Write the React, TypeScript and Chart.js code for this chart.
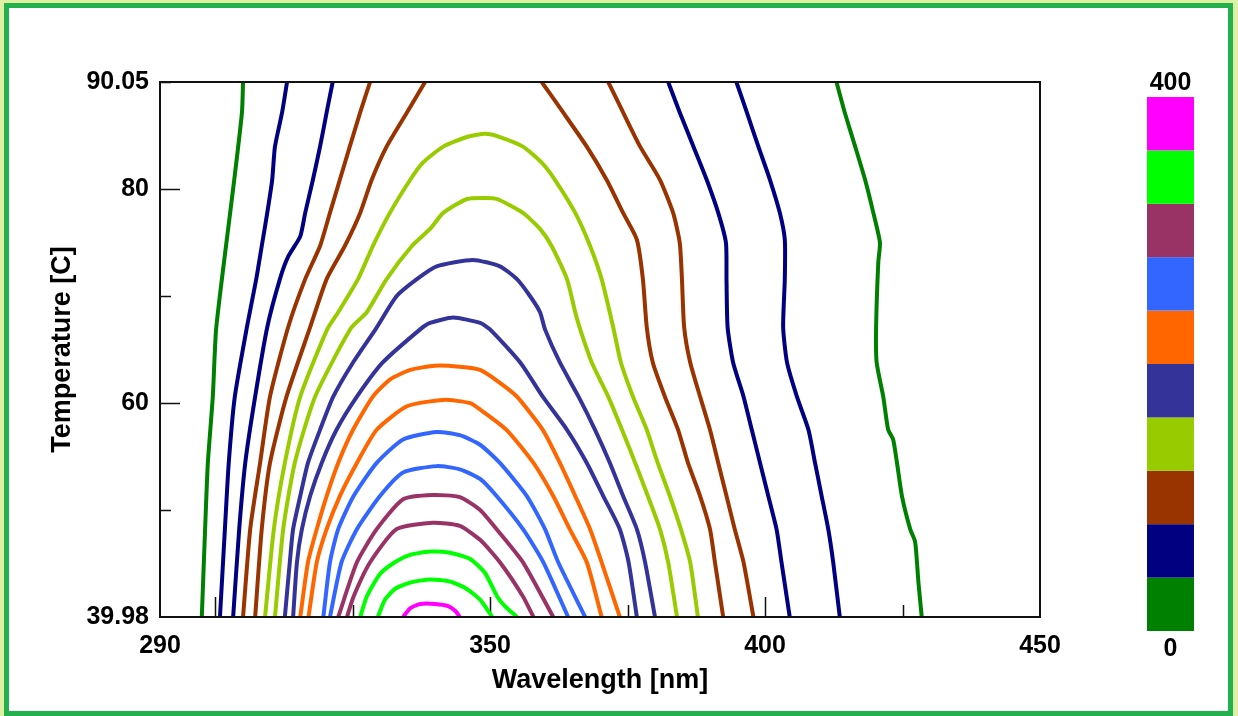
import React, { useEffect, useRef } from "react";
import { Chart, registerables } from "chart.js";

Chart.register(...registerables);

// ---------- data ----------
const bandColors = [
  "#008000", "#000080", "#993300", "#99cc00", "#333399",
  "#ff6600", "#3366ff", "#993366", "#00ff00", "#ff00ff",
];
const colorbarMin = 0;
const colorbarMax = 400;
const colorbarLabels = ["400", "0"];

const xTickLabels = [290, 350, 400, 450];
const yTickLabels = [39.98, 60, 80, 90.05];
const xMajorMarks = [300, 350, 400];
const xMinorMarks = [325, 375, 425];
const yMajorMarks = [60, 80];
const yMinorMarks = [50, 70, 90.05];

// contour lines: [wavelength nm, temperature C]
const c20L = [[305.1,90.05],[304.9,87.2],[303.5,80.9],[302.0,74.7],[300.2,66.9],[299.6,60.6],[298.7,54.4],[298.2,48.2],[297.6,39.98]];
const c20R = [[413.0,90.05],[414.5,87.2],[416.4,84.0],[418.2,80.9],[419.7,77.8],[420.9,75.0],[420.6,73.2],[420.2,67.1],[420.3,63.8],[421.5,60.6],[422.4,57.5],[423.3,56.6],[424.0,54.4],[424.9,51.3],[426.4,48.2],[427.3,47.0],[427.9,43.2],[428.5,39.98]];
const c40L = [[313.1,90.05],[312.2,87.2],[310.9,84.0],[310.4,80.9],[309.5,77.8],[308.5,74.7],[307.5,71.6],[305.8,67.1],[303.6,60.6],[302.5,54.4],[301.8,48.2],[300.9,39.98]];
const c40R = [[394.8,90.05],[396.7,87.2],[398.8,84.0],[400.9,80.9],[402.7,77.8],[403.6,75.3],[403.6,71.6],[403.3,67.1],[404.0,63.8],[405.8,60.6],[407.9,57.5],[409.1,54.4],[410.3,51.3],[411.5,48.2],[412.4,45.1],[413.6,39.98]];
const c60L = [[321.4,90.05],[320.3,87.2],[319.1,84.0],[317.8,80.9],[316.4,77.8],[315.5,75.6],[313.3,73.7],[311.8,71.6],[309.5,67.1],[307.3,60.6],[305.5,54.4],[304.4,48.2],[303.3,39.98]];
const c60R = [[382.4,90.05],[384.5,87.2],[387.0,84.0],[389.4,80.9],[391.5,77.8],[392.9,75.0],[393.0,71.6],[393.2,67.1],[394.2,63.8],[396.1,60.6],[397.6,57.5],[399.1,54.4],[400.6,51.3],[402.1,48.2],[403.0,45.1],[404.5,39.98]];
const c80L = [[328.2,90.05],[326.4,87.2],[324.5,84.0],[322.7,80.9],[320.9,77.8],[319.1,74.7],[316.4,71.6],[313.3,67.1],[310.0,60.6],[308.2,54.4],[306.4,48.2],[305.1,39.98]];
const c80R = [[371.5,90.05],[374.2,87.2],[377.3,84.0],[380.9,80.9],[383.3,77.8],[384.5,75.0],[384.9,71.6],[385.3,67.1],[386.4,63.8],[388.2,60.6],[390.0,57.5],[391.5,54.4],[393.0,51.3],[394.5,48.2],[396.1,45.1],[397.9,39.98]];
const c100L = [[338.2,90.05],[334.9,87.2],[331.2,84.0],[328.5,80.9],[326.4,77.8],[323.6,74.7],[320.3,71.6],[317.3,67.1],[313.0,60.6],[310.0,54.4],[308.5,48.2],[307.3,39.98]];
const c100R = [[359.4,90.05],[363.3,87.2],[367.6,84.0],[371.2,80.9],[374.2,77.8],[376.7,75.3],[377.8,71.6],[378.5,67.1],[379.6,63.8],[381.8,60.6],[384.2,57.5],[386.0,54.4],[388.2,51.3],[390.0,48.2],[390.9,45.1],[392.4,39.98]];
const c120 = [[309.1,39.98],[310.7,48.2],[312.7,54.4],[315.5,60.6],[320.4,66.9],[322.4,68.5],[326.0,71.6],[328.7,74.7],[331.8,77.8],[335.5,80.9],[337.8,82.5],[341.5,84.0],[345.8,84.9],[349.1,85.2],[351.8,84.9],[356.0,84.0],[359.4,82.5],[361.8,80.9],[365.5,77.8],[368.2,74.7],[370.3,71.6],[372.4,67.1],[373.8,63.8],[376.0,60.6],[378.5,57.5],[380.5,54.4],[382.7,51.3],[384.7,48.2],[386.4,45.1],[387.8,39.98]];
const c140 = [[310.9,39.98],[312.4,48.2],[314.5,54.4],[318.2,60.6],[324.7,67.0],[327.6,68.5],[331.2,71.6],[335.8,74.7],[339.1,76.3],[341.5,77.8],[345.8,79.1],[349.1,79.2],[351.3,79.1],[356.0,77.8],[359.1,76.3],[361.2,74.7],[364.0,71.6],[365.5,68.5],[366.4,66.9],[368.5,63.8],[371.5,60.6],[374.0,57.5],[376.4,54.4],[378.7,51.3],[380.9,48.2],[382.4,45.1],[384.0,39.98]];
const c160 = [[312.7,39.98],[313.6,45.1],[314.2,48.2],[315.5,51.3],[316.9,54.4],[319.1,57.5],[321.5,60.6],[325.1,63.8],[329.3,67.0],[333.0,70.0],[336.7,71.6],[340.3,72.8],[346.9,73.4],[351.8,72.8],[354.9,71.6],[357.3,70.0],[359.1,68.5],[360.0,66.9],[362.7,63.8],[366.1,60.6],[369.1,57.5],[371.8,54.4],[374.2,51.3],[376.7,48.2],[378.2,45.1],[380.0,39.98]];
const c180 = [[314.2,39.98],[314.9,45.1],[315.8,48.2],[317.3,51.3],[319.4,54.4],[322.1,57.5],[325.8,60.6],[330.5,63.8],[337.3,66.9],[339.1,67.5],[343.3,68.0],[348.2,67.5],[350.0,66.9],[355.5,63.8],[359.6,60.6],[364.0,57.5],[367.6,54.4],[370.6,51.3],[373.6,48.2],[375.2,45.1],[376.7,39.98]];
const c200 = [[315.5,39.98],[316.9,45.1],[318.5,48.2],[320.3,51.3],[322.4,54.4],[325.1,57.5],[328.7,60.6],[331.8,62.2],[335.5,63.1],[340.0,63.5],[344.5,63.4],[348.2,63.1],[351.8,61.9],[354.9,60.6],[359.6,57.5],[362.7,54.4],[365.5,51.3],[368.2,48.2],[370.3,45.1],[373.6,39.98]];
const c220 = [[317.0,39.98],[318.5,45.1],[320.3,48.2],[322.7,51.3],[325.8,54.4],[329.4,57.5],[334.9,59.7],[341.5,60.3],[346.4,60.0],[348.2,59.4],[353.0,57.5],[357.9,54.4],[361.5,51.3],[364.5,48.2],[367.6,45.1],[370.3,39.98]];
const c240 = [[319.7,39.98],[320.9,45.1],[322.4,48.2],[325.2,51.3],[329.4,54.4],[334.2,56.6],[340.3,57.3],[344.5,57.0],[348.2,56.1],[351.8,54.4],[356.7,51.3],[360.0,48.2],[362.4,45.1],[367.3,39.98]];
const c260 = [[320.9,39.98],[323.0,45.1],[325.8,48.2],[330.0,51.3],[334.2,53.5],[340.3,54.1],[344.5,53.8],[348.2,52.9],[351.2,51.3],[356.0,48.2],[359.7,45.1],[364.2,39.98]];
const c280 = [[322.4,39.98],[325.8,45.1],[329.4,48.2],[334.2,51.0],[339.6,51.4],[344.5,51.2],[348.2,50.0],[351.2,48.2],[356.0,45.1],[361.5,39.98]];
const c300 = [[324.0,39.98],[325.2,41.9],[328.2,45.1],[333.0,48.2],[339.6,48.8],[344.5,48.5],[348.2,47.2],[351.8,45.1],[356.0,41.9],[357.9,39.98]];
const c320 = [[326.4,39.98],[327.6,41.9],[330.0,44.0],[332.7,45.1],[335.5,45.8],[339.1,46.1],[342.7,46.0],[346.4,45.4],[349.1,44.1],[351.3,41.9],[352.7,41.0],[354.9,39.98]];
const c340 = [[329.6,39.98],[330.9,41.6],[332.7,42.6],[335.5,43.2],[339.1,43.5],[342.7,43.3],[345.5,42.7],[348.2,41.6],[350.4,39.98]];
const c360 = [[334.2,39.98],[335.5,40.8],[337.3,41.2],[340.0,41.2],[342.4,41.0],[343.8,40.5],[344.5,39.98]];

const contourLevels = [20, 20, 40, 40, 60, 60, 80, 80, 100, 100, 120, 140, 160, 180, 200, 220, 240, 260, 280, 300, 320, 340, 360];
const contourLines = [c20L, c20R, c40L, c40R, c60L, c60R, c80L, c80R, c100L, c100R, c120, c140, c160, c180, c200, c220, c240, c260, c280, c300, c320, c340, c360];

// ---------- styling ----------
const SANS = '"Liberation Sans", Arial, sans-serif';

const bandStep = (colorbarMax - colorbarMin) / bandColors.length;

const decorPlugin = {
  id: "decor",
  beforeDatasetsDraw(chart: any) {
    const { ctx, scales } = chart;
    const x = scales.x;
    const y = scales.y;
    const area = chart.chartArea;
    ctx.save();
    ctx.strokeStyle = "#111";
    ctx.lineWidth = 1.5;
    ctx.beginPath();
    xMajorMarks.forEach((v) => {
      const px = Math.round(x.getPixelForValue(v)) + 0.5;
      ctx.moveTo(px, area.bottom);
      ctx.lineTo(px, area.bottom - 20);
    });
    xMinorMarks.forEach((v) => {
      const px = Math.round(x.getPixelForValue(v)) + 0.5;
      ctx.moveTo(px, area.bottom);
      ctx.lineTo(px, area.bottom - 12);
    });
    yMajorMarks.forEach((v) => {
      const py = Math.round(y.getPixelForValue(v)) + 0.5;
      ctx.moveTo(area.left, py);
      ctx.lineTo(area.left + 20, py);
    });
    yMinorMarks.forEach((v) => {
      const py = Math.round(y.getPixelForValue(v)) + 0.5;
      ctx.moveTo(area.left, py);
      ctx.lineTo(area.left + 11, py);
    });
    ctx.stroke();
    ctx.restore();
  },
  afterDatasetsDraw(chart: any) {
    const { ctx } = chart;
    const area = chart.chartArea;
    ctx.save();
    ctx.strokeStyle = "#111";
    ctx.lineWidth = 2;
    ctx.strokeRect(area.left, area.top, area.right - area.left, area.bottom - area.top);

    // colour bar
    const cbLeft = 1147;
    const cbWidth = 47;
    const cbTop = 97;
    const cbBottom = 631;
    const h = (cbBottom - cbTop) / bandColors.length;
    bandColors.forEach((c, i) => {
      const lo = colorbarMin + i * bandStep;
      const frac = (lo - colorbarMin) / (colorbarMax - colorbarMin);
      const yb = cbBottom - frac * (cbBottom - cbTop);
      ctx.fillStyle = c;
      ctx.fillRect(cbLeft, yb - h, cbWidth, h);
    });
    ctx.fillStyle = "#000";
    ctx.font = `bold 25px ${SANS}`;
    ctx.textAlign = "center";
    ctx.textBaseline = "middle";
    ctx.fillText(colorbarLabels[0], cbLeft + cbWidth / 2, 83);
    ctx.fillText(colorbarLabels[1], cbLeft + cbWidth / 2, 649);
    ctx.restore();
  },
};

export default function App() {
  const ref = useRef<HTMLCanvasElement | null>(null);

  useEffect(() => {
    if (!ref.current) return;
    const datasets = contourLines.map((pts, i) => ({
      label: String(contourLevels[i]),
      data: pts.map(([x, y]) => ({ x, y })),
      borderColor: bandColors[Math.floor(contourLevels[i] / bandStep)],
      backgroundColor: bandColors[Math.floor(contourLevels[i] / bandStep)],
      borderWidth: 4,
      pointRadius: 0,
      showLine: true,
      fill: false,
      tension: 0.2,
      clip: 0,
      borderJoinStyle: "round" as const,
    }));

    const chart = new Chart(ref.current, {
      type: "scatter",
      data: { datasets },
      options: {
        animation: false,
        responsive: false,
        events: [],
        layout: { padding: { left: 0, top: 82, right: 198, bottom: 0 } },
        plugins: { legend: { display: false }, tooltip: { enabled: false } },
        scales: {
          x: {
            type: "linear",
            min: 290,
            max: 450,
            afterBuildTicks: (scale: any) => {
              scale.ticks = xTickLabels.map((v) => ({ value: v }));
            },
            afterFit: (scale: any) => {
              scale.height = 99;
            },
            grid: { display: false, drawTicks: false },
            border: { display: false },
            ticks: {
              autoSkip: false,
              maxRotation: 0,
              minRotation: 0,
              padding: 14,
              color: "#000",
              font: { family: SANS, size: 25, weight: "bold" },
              callback: (v: any) => String(v),
            },
            title: {
              display: true,
              text: "Wavelength [nm]",
              color: "#000",
              font: { family: SANS, size: 27, weight: "bold" },
              padding: { top: 0, bottom: 19 },
            },
          },
          y: {
            type: "linear",
            min: 39.98,
            max: 90.05,
            afterBuildTicks: (scale: any) => {
              scale.ticks = yTickLabels.map((v) => ({ value: v }));
            },
            afterFit: (scale: any) => {
              scale.width = 160;
            },
            grid: { display: false, drawTicks: false },
            border: { display: false },
            ticks: {
              autoSkip: false,
              padding: 11,
              color: "#000",
              font: { family: SANS, size: 25, weight: "bold" },
              callback: (v: any) => (v === 39.98 ? "39.98" : v === 90.05 ? "90.05" : String(v)),
            },
            title: {
              display: true,
              text: "Temperature [C]",
              color: "#000",
              font: { family: SANS, size: 27, weight: "bold" },
              padding: { top: 46, bottom: 0 },
            },
          },
        },
      },
      plugins: [decorPlugin],
    });
    return () => chart.destroy();
  }, []);

  return (
    <div
      style={{
        position: "fixed",
        left: 0,
        top: 0,
        width: 1238,
        height: 716,
        background: "#ddf0a3",
        overflow: "hidden",
      }}
    >
      <div
        style={{
          position: "absolute",
          left: 4,
          top: 3,
          width: 1229,
          height: 713,
          boxSizing: "border-box",
          border: "5px solid #22b14c",
          background: "#ffffff",
        }}
      />
      <canvas
        ref={ref}
        width={1238}
        height={716}
        style={{ position: "absolute", left: 0, top: 0, width: 1238, height: 716 }}
      />
    </div>
  );
}
